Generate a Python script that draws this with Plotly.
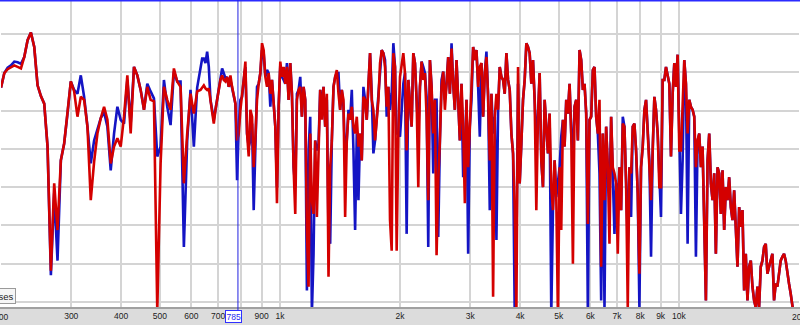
import numpy as np
import plotly.graph_objects as go

# Measurement bins: 1/120-decade spacing below ~630 Hz, 1/240-decade spacing above
freqs_low = 200 * 10 ** (np.arange(0, 60) / 120)
freqs_high = 200 * 10 ** (np.arange(120, 481) / 240)
freqs = np.concatenate([freqs_low, freqs_high])

red_low = [
    -7.0, -5.1, -4.6, -4.4, -4.1, -4.3, -4.5, -3.0, -0.8, 0.2,
    -1.7, -6.7, -8.1, -9.1, -14.7, -30.9, -19.5, -25.6, -16.5, -14.3,
    -10.4, -6.2, -7.5, -10.8, -8.2, -8.6, -12.1, -21.7, -16.7, -13.0,
    -11.0, -9.5, -11.2, -16.9, -14.7, -13.6, -14.7, -10.8, -5.4, -13.0,
    -4.3, -5.4, -7.3, -9.9, -6.9, -8.6, -8.8, -36.1, -16.9, -6.9,
    -8.6, -9.9, -4.5, -6.2, -6.9, -19.5, -13.0, -7.8, -10.4, -7.5,
]
blue_low = [
    -7.0, -5.1, -4.4, -4.1, -3.6, -3.7, -3.9, -3.0, -0.8, 0.2,
    -1.7, -6.7, -8.1, -9.1, -14.7, -31.5, -20.8, -29.6, -16.5, -14.3,
    -10.4, -6.2, -7.3, -7.8, -5.4, -8.2, -12.1, -16.9, -13.9, -12.6,
    -11.0, -10.2, -12.1, -17.8, -13.0, -9.5, -11.2, -11.7, -6.0, -11.7,
    -4.3, -5.4, -7.3, -9.9, -6.5, -7.5, -8.4, -16.0, -14.7, -6.0,
    -9.5, -11.9, -4.9, -6.2, -6.2, -27.8, -13.9, -7.3, -14.7, -7.0,
]

# ~630 Hz .. ~2 kHz
red_mid1 = [
    -7.3, -6.9, -6.7, -7.1, -7.3, -7.1, -8.6, -9.9, -11.7, -9.9,
    -8.6, -6.9, -6.0, -5.4, -6.0, -6.2, -5.6, -6.9, -5.4, -6.9,
    -8.2, -9.1, -13.9, -13.0, -9.9, -8.2, -6.0, -3.6, -13.0, -16.0,
    -9.9, -10.8, -17.4, -13.6, -8.6, -6.5, -5.1, -1.2, -2.1, -5.6,
    -6.9, -5.1, -7.8, -6.0, -8.6, -12.1, -22.1, -9.5, -3.6, -5.6,
    -4.3, -6.5, -4.3, -8.6, -3.8, -7.8, -17.4, -23.5, -8.6, -7.3,
    -6.9, -10.8, -6.9, -8.6, -25.6, -33.0, -13.0, -21.7, -23.5, -13.9,
    -23.9, -14.3, -7.3, -11.2, -6.9, -12.1, -7.8, -31.7, -17.4, -13.9,
    -6.9, -5.6, -4.7, -7.8, -9.9, -7.3, -8.6, -23.9, -13.9, -10.4,
    -11.2, -9.5, -12.1, -13.0, -10.8, -14.7, -13.0, -16.5, -8.2, -8.6,
    -11.2, -6.5, -2.5, -8.6, -9.9, -13.9, -10.8, -8.6, -3.8, -2.1,
    -2.5, -4.3, -9.5, -6.9, -24.3, -28.3, -2.5, -4.3, -28.3, -13.0,
]
blue_mid1 = [
    -4.5, -3.2, -3.2, -3.8, -2.3, -4.3, -8.6, -9.9, -11.2, -9.9,
    -8.6, -6.9, -6.0, -4.5, -5.1, -5.8, -5.6, -6.9, -6.0, -6.9,
    -8.2, -9.1, -19.1, -12.1, -8.6, -8.2, -6.0, -4.3, -13.0, -14.7,
    -13.9, -11.7, -23.0, -13.9, -6.9, -6.5, -5.1, -2.1, -2.5, -5.6,
    -4.7, -5.1, -9.5, -6.0, -8.6, -12.1, -20.0, -9.5, -4.1, -5.6,
    -6.0, -6.5, -3.8, -8.6, -3.8, -7.8, -17.4, -20.0, -7.8, -7.3,
    -5.6, -10.8, -6.9, -8.6, -33.5, -15.2, -10.8, -36.5, -28.7, -13.9,
    -15.2, -14.3, -7.3, -9.5, -6.9, -12.1, -8.6, -26.1, -27.4, -13.9,
    -6.9, -5.6, -5.1, -5.1, -9.9, -7.3, -9.5, -16.5, -13.9, -9.9,
    -11.2, -7.3, -15.2, -25.6, -13.0, -21.7, -13.0, -16.5, -6.9, -8.6,
    -11.2, -6.5, -2.5, -7.8, -15.6, -13.9, -10.8, -6.9, -4.3, -2.1,
    -2.5, -3.4, -10.8, -6.9, -9.9, -7.8, -1.2, -4.3, -13.0, -13.0,
]

# ~2 kHz .. ~6 kHz
red_mid2 = [
    -5.6, -4.1, -2.5, -5.1, -15.2, -6.0, -8.6, -12.1, -2.5, -3.8,
    -8.6, -20.0, -6.9, -3.6, -6.0, -5.1, -10.8, -21.7, -3.4, -6.9,
    -13.0, -8.6, -28.9, -19.1, -13.9, -6.9, -4.9, -9.9, -6.5, -3.0,
    -7.8, -1.9, -6.5, -9.9, -3.4, -8.6, -13.9, -6.5, -12.1, -22.1,
    -8.6, -17.4, -12.1, -8.6, -1.7, -3.4, -2.1, -6.9, -4.3, -3.8,
    -10.8, -5.1, -3.0, -8.2, -16.5, -7.8, -34.3, -10.8, -7.8, -9.9,
    -4.3, -5.6, -6.0, -7.8, -2.5, -6.0, -7.3, -13.0, -15.6, -22.6,
    -36.5, -4.3, -19.5, -14.3, -8.6, -6.0, -1.2, -1.7, -2.5, -6.5,
    -3.4, -8.6, -23.0, -10.8, -5.1, -16.5, -20.0, -8.6, -12.1, -15.6,
    -10.4, -20.0, -23.0, -16.5, -21.3, -37.0, -17.4, -25.6, -11.2, -14.7,
    -8.6, -10.4, -6.5, -13.0, -30.0, -9.5, -8.6, -13.9, -2.1, -3.4,
    -7.3, -6.5, -10.4, -24.8, -11.2, -10.8, -4.7, -4.3, -10.8, -13.0,
]
blue_mid2 = [
    -13.4, -9.9, -6.5, -5.1, -26.1, -6.0, -8.6, -12.1, -2.5, -3.8,
    -8.6, -13.0, -6.9, -3.6, -4.3, -5.1, -8.2, -27.8, -3.4, -6.9,
    -18.2, -8.6, -8.6, -26.5, -13.9, -6.0, -4.9, -8.6, -6.5, -3.0,
    -7.8, -1.2, -6.5, -9.9, -3.4, -8.6, -13.9, -6.5, -18.7, -15.2,
    -8.6, -28.7, -12.1, -8.6, -1.7, -3.4, -2.1, -6.9, -13.4, -3.8,
    -10.8, -5.1, -2.3, -8.2, -23.0, -7.8, -13.0, -10.8, -26.9, -9.9,
    -4.3, -5.6, -6.0, -7.8, -2.5, -6.0, -7.3, -13.0, -15.6, -36.5,
    -28.7, -6.5, -19.5, -14.3, -8.6, -6.0, -1.2, -1.7, -2.5, -6.5,
    -3.4, -8.6, -13.9, -10.8, -5.1, -16.5, -20.0, -8.6, -12.1, -15.6,
    -10.4, -36.5, -23.0, -16.5, -21.3, -19.5, -17.4, -13.4, -11.2, -14.7,
    -8.6, -10.4, -6.5, -13.0, -15.2, -9.5, -8.6, -13.9, -2.1, -3.4,
    -7.3, -6.5, -10.4, -36.5, -11.2, -10.8, -4.7, -4.3, -10.8, -13.0,
]

# ~6 kHz .. 20 kHz
red_high = [
    -8.6, -30.4, -13.0, -21.7, -12.1, -17.4, -27.4, -10.8, -17.4, -18.2,
    -19.5, -28.7, -17.4, -23.0, -11.7, -12.1, -19.5, -35.7, -17.4, -18.2,
    -12.1, -11.7, -15.2, -20.8, -31.3, -17.4, -14.7, -9.9, -8.6, -13.0,
    -16.5, -21.7, -15.2, -8.2, -9.9, -13.0, -20.0, -20.0, -6.0, -6.0,
    -4.3, -5.6, -6.5, -16.0, -7.8, -3.8, -6.9, -2.7, -15.2, -15.2,
    -9.1, -3.4, -6.5, -13.0, -8.6, -9.5, -9.9, -10.8, -17.4, -13.9,
    -13.0, -17.4, -14.7, -26.1, -34.8, -16.5, -13.0, -19.5, -21.7, -18.2,
    -28.7, -17.4, -18.2, -23.5, -17.8, -25.6, -20.0, -21.7, -18.7, -22.6,
    -24.3, -20.4, -26.1, -30.4, -22.6, -25.2, -23.0, -33.5, -28.7, -34.8,
    -30.4, -29.6, -33.0, -34.8, -35.7, -33.0, -35.7, -30.4, -29.6, -27.8,
    -27.4, -31.3, -30.4, -29.6, -28.7, -34.8, -32.6, -33.0, -30.9, -29.6,
    -29.1, -28.7, -29.6, -31.3, -32.6, -33.9, -35.7, -38.0, -39.0, -40.0,
    -40.0,
]
blue_high = [
    -18.2, -34.8, -13.0, -35.7, -12.1, -17.4, -21.7, -10.8, -17.4, -26.1,
    -19.5, -21.7, -17.4, -23.0, -10.8, -12.1, -19.5, -27.4, -17.4, -23.9,
    -12.1, -11.7, -15.2, -20.8, -35.7, -17.4, -14.7, -9.9, -8.6, -13.0,
    -16.5, -29.1, -15.2, -8.2, -9.9, -13.0, -20.0, -23.9, -6.0, -6.0,
    -4.3, -5.6, -6.5, -16.0, -7.8, -3.8, -6.9, -2.7, -15.2, -23.5,
    -16.5, -3.4, -6.5, -27.4, -8.6, -9.5, -9.9, -10.8, -29.1, -13.9,
    -13.0, -17.4, -14.7, -26.1, -34.8, -16.5, -13.0, -19.5, -21.7, -18.2,
    -28.7, -17.4, -18.2, -23.5, -17.8, -25.6, -20.0, -21.7, -18.7, -22.6,
    -24.3, -20.4, -26.1, -30.4, -22.6, -25.2, -23.0, -33.5, -28.7, -34.8,
    -30.4, -29.6, -33.0, -34.8, -35.7, -33.0, -35.7, -30.4, -29.6, -27.8,
    -27.4, -31.3, -30.4, -29.6, -28.7, -34.8, -32.6, -33.0, -30.9, -29.6,
    -29.1, -28.7, -29.6, -31.3, -32.6, -33.9, -35.7, -38.0, -39.0, -40.0,
    -40.0,
]

red_db = red_low + red_mid1 + red_mid2 + red_high
blue_db = blue_low + blue_mid1 + blue_mid2 + blue_high

tick_vals = [300, 400, 500, 600, 700, 800, 900, 1000, 2000, 3000, 4000,
             5000, 6000, 7000, 8000, 9000, 10000]
tick_text = ["300", "400", "500", "600", "700", "", "900", "1k", "2k", "3k",
             "4k", "5k", "6k", "7k", "8k", "9k", "10k"]
edge_ticks = [(200, "200"), (20000, "20k")]
grid_vals = [200] + tick_vals + [20000]
db_grid = [0, -5, -10, -15, -20, -25, -30, -35]
cursor_freq = 785
cursor_label = "785"
button_label = "ses"

X_MIN, X_MAX = 200, 20000
Y_MIN, Y_MAX = -35.65, 4.44
H, W = 325, 800
MT, MB, ML, MR = 0, 18, 1, 1
plot_h = H - MT - MB
plot_w = W - ML - MR

fig = go.Figure()
fig.add_trace(go.Scatter(x=freqs, y=blue_db, mode="lines",
                         line=dict(color="#1414c4", width=2.6), hoverinfo="skip"))
fig.add_trace(go.Scatter(x=freqs, y=red_db, mode="lines",
                         line=dict(color="#d40000", width=2.6), hoverinfo="skip"))


def paper_x(f):
    return (np.log10(f) - np.log10(X_MIN)) / (np.log10(X_MAX) - np.log10(X_MIN))


cx = paper_x(cursor_freq)

shapes = [
    dict(type="rect", xref="paper", yref="paper", x0=-0.01, x1=1.01,
         y0=-MB / plot_h, y1=0, fillcolor="#dcdcdc", line=dict(width=0), layer="below"),
    dict(type="line", xref="paper", yref="paper", x0=-0.01, x1=1.01,
         y0=-1.0 / plot_h, y1=-1.0 / plot_h, line=dict(color="#8c8c8c", width=1.5)),
    dict(type="line", xref="paper", yref="paper", x0=-0.01, x1=1.01,
         y0=1, y1=1, line=dict(color="#2b2bff", width=3)),
    dict(type="line", xref="paper", yref="paper", x0=cx, x1=cx,
         y0=-4.5 / plot_h, y1=1, line=dict(color="#2020e0", width=1)),
]

tick_font = dict(family="Liberation Sans", size=8.5, color="#222222")
annotations = [
    dict(text=cursor_label, xref="paper", yref="paper", x=cx, y=-9.5 / plot_h,
         xanchor="center", yanchor="middle", xshift=-4, showarrow=False,
         font=dict(family="Liberation Sans", size=8.5, color="#2a2af0"),
         bgcolor="white", bordercolor="#3030ff", borderwidth=1, borderpad=0.5),
    dict(text=button_label, xref="paper", yref="paper", x=14.5 / plot_w,
         y=11 / plot_h, xanchor="right", yanchor="middle", showarrow=False,
         font=dict(family="Liberation Sans", size=9.5, color="#222222"),
         bgcolor="#f6f6f6", bordercolor="#9a9a9a", borderwidth=1, borderpad=1.5),
]
for f, label in edge_ticks:
    annotations.append(dict(text=label, xref="paper", yref="paper", x=paper_x(f),
                            y=-9.5 / plot_h, xanchor="center", yanchor="middle",
                            showarrow=False, font=tick_font))

fig.update_layout(
    width=W, height=H,
    margin=dict(l=ML, r=MR, t=MT, b=MB, pad=0, autoexpand=False),
    paper_bgcolor="white", plot_bgcolor="white",
    showlegend=False,
    shapes=shapes, annotations=annotations,
    xaxis=dict(type="log", range=[np.log10(X_MIN), np.log10(X_MAX)],
               tickvals=tick_vals, ticktext=tick_text, ticks="",
               showgrid=False, zeroline=False, showline=False, fixedrange=True,
               automargin=False, tickfont=tick_font, ticklabelstandoff=2),
    xaxis2=dict(type="log", range=[np.log10(X_MIN), np.log10(X_MAX)],
                overlaying="x", tickvals=grid_vals, showticklabels=False, ticks="",
                showgrid=True, gridcolor="#d4d4d4", gridwidth=1.5,
                zeroline=False, showline=False, fixedrange=True, automargin=False),
    yaxis=dict(range=[Y_MIN, Y_MAX], tickvals=db_grid, showticklabels=False,
               ticks="", showgrid=True, gridcolor="#d4d4d4", gridwidth=1.5,
               zeroline=False, showline=False, fixedrange=True, automargin=False),
)
# invisible trace to activate the grid axis
fig.add_trace(go.Scatter(x=[X_MIN, X_MAX], y=[None, None], xaxis="x2",
                         mode="lines", hoverinfo="skip", showlegend=False))

fig.write_html("out.html")
